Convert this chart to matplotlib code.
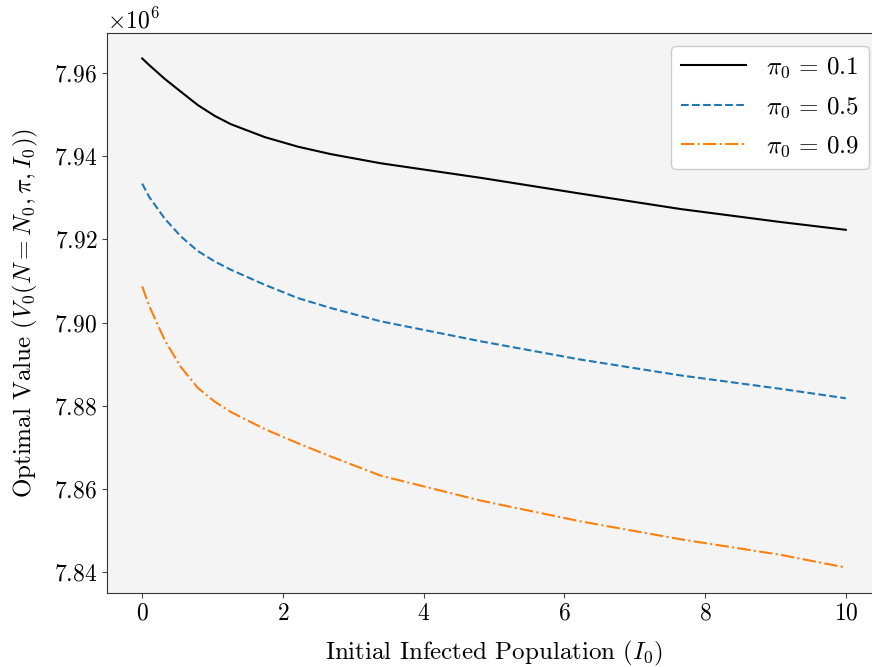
import matplotlib
matplotlib.use("Agg")
import matplotlib.pyplot as plt

# Style proche du rendu LaTeX (Computer Modern)
plt.rcParams['font.family'] = 'serif'
plt.rcParams['font.serif'] = ['cmr10', 'DejaVu Serif']
plt.rcParams['mathtext.fontset'] = 'cm'
plt.rcParams['axes.formatter.use_mathtext'] = True
plt.rcParams['axes.unicode_minus'] = False

# Données (valeurs en millions)
I0 = [0.0, 0.1, 0.32, 0.55, 0.79, 1.03, 1.26, 1.74, 2.21, 2.68, 3.39,
      4.81, 6.23, 7.65, 9.06, 10.0]

V_pi01 = [7.9635, 7.9619, 7.9586, 7.9555, 7.9523, 7.9497, 7.9477, 7.9446,
          7.9423, 7.9405, 7.9383, 7.9348, 7.9310, 7.9273, 7.9242, 7.9223]
V_pi05 = [7.9334, 7.9302, 7.9250, 7.9207, 7.9172, 7.9147, 7.9127, 7.9091,
          7.9059, 7.9035, 7.9003, 7.8955, 7.8911, 7.8873, 7.8841, 7.8818]
V_pi09 = [7.9087, 7.9040, 7.8958, 7.8893, 7.8843, 7.8810, 7.8785, 7.8744,
          7.8710, 7.8678, 7.8632, 7.8572, 7.8522, 7.8479, 7.8442, 7.8411]

labels = [r'$\pi_0 \,=\, 0.1$', r'$\pi_0 \,=\, 0.5$', r'$\pi_0 \,=\, 0.9$']

fig = plt.figure(figsize=(8.72, 6.67), dpi=100)
ax = fig.add_axes([107 / 872, 1 - 593 / 667, 774 / 872, 560 / 667])
ax.set_facecolor('#f4f4f4')

ax.plot(I0, [v * 1e6 for v in V_pi01], '-', color='black', lw=1.5, label=labels[0])
ax.plot(I0, [v * 1e6 for v in V_pi05], '--', color='#1f77b4', lw=1.5, label=labels[1])
ax.plot(I0, [v * 1e6 for v in V_pi09], '-.', color='#ff7f0e', lw=1.5, label=labels[2])

ax.set_xlabel(r'Initial Infected Population $(I_0)$', fontsize=18, labelpad=10)
ax.set_ylabel(r'Optimal Value $(V_0(N = N_0, \pi, I_0))$', fontsize=18, labelpad=10)
ax.tick_params(labelsize=17, color='#444444')
ax.yaxis.get_offset_text().set_fontsize(17)
for s in ax.spines.values():
    s.set_color('#333333')

leg = ax.legend(loc='upper right', fontsize=18, facecolor='white',
                edgecolor='#cccccc', framealpha=1.0, handlelength=2.6,
                labelspacing=0.6)

fig.savefig('out.png', dpi=100)
